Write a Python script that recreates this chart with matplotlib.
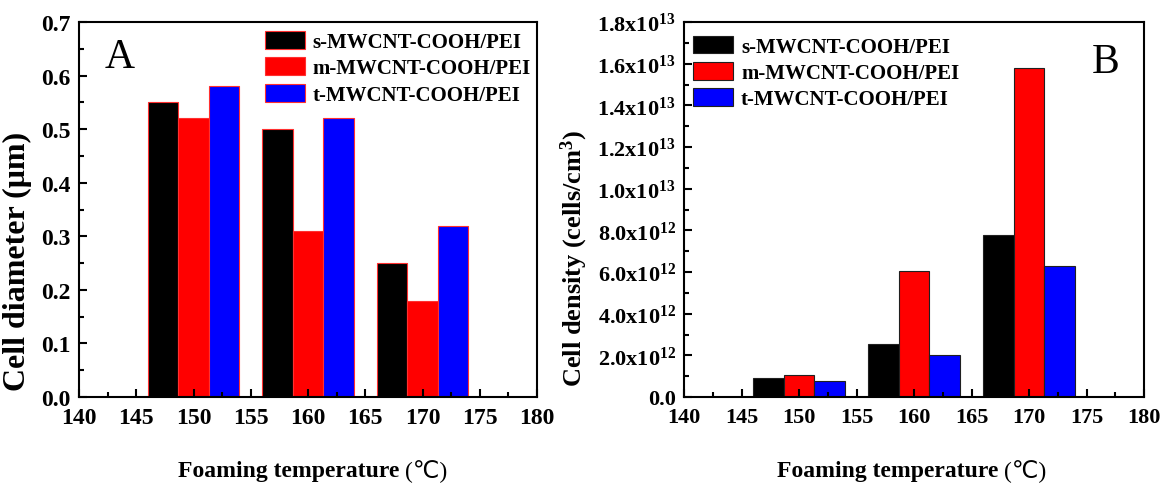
import numpy as np
import matplotlib
matplotlib.use("Agg")
import matplotlib.pyplot as plt
from matplotlib.ticker import MultipleLocator

plt.rcParams['font.family'] = ['Liberation Serif', 'DejaVu Sans']
plt.rcParams['font.weight'] = 'bold'
plt.rcParams['mathtext.fontset'] = 'custom'
plt.rcParams['mathtext.rm'] = 'Liberation Serif:bold'
plt.rcParams['mathtext.bf'] = 'Liberation Serif:bold'
plt.rcParams['mathtext.it'] = 'Liberation Serif:bold:italic'

# data
temps = [150, 160, 170]
series = ['s-MWCNT-COOH/PEI', 'm-MWCNT-COOH/PEI', 't-MWCNT-COOH/PEI']
colors = ['#000000', '#ff0000', '#0000ff']

diam_s = [0.55, 0.50, 0.25]
diam_m = [0.52, 0.31, 0.18]
diam_t = [0.58, 0.52, 0.32]

dens_s = [0.91e12, 2.56e12, 7.8e12]
dens_m = [1.04e12, 6.06e12, 1.58e13]
dens_t = [0.76e12, 2.0e12, 6.27e12]

w = 8 / 3.0
offs = [-w, 0, w]

fig = plt.figure(figsize=(11.62, 4.85), dpi=100)
# axes frames: A 79..537 px, B 684..1144 px, y 23..398 px
axA = fig.add_axes([79 / 1162, 87 / 485, 458 / 1162, 375 / 485])
axB = fig.add_axes([684 / 1162, 87 / 485, 460 / 1162, 375 / 485])

x = np.array(temps, dtype=float)
for vals, c, o, lab in zip([diam_s, diam_m, diam_t], colors, offs, series):
    axA.bar(x + o, vals, width=w, color=c, edgecolor='#ff3030', linewidth=0.8, label=lab)
for vals, c, o, lab in zip([dens_s, dens_m, dens_t], colors, offs, series):
    axB.bar(x + o, vals, width=w, color=c, edgecolor='#202020', linewidth=0.8, label=lab)

for ax, fs in ((axA, 17), (axB, 16)):
    ax.set_xlim(140, 180)
    ax.xaxis.set_major_locator(MultipleLocator(5))
    ax.xaxis.set_minor_locator(MultipleLocator(2.5))
    ax.tick_params(which='both', direction='in', labelsize=fs, width=1.5)
    ax.tick_params(which='major', length=6)
    ax.tick_params(which='minor', length=3.5)
    ax.tick_params(axis='x', pad=7)
    ax.tick_params(axis='y', pad=6)
    for sp in ax.spines.values():
        sp.set_linewidth(1.5)
    for t in ax.get_xticklabels():
        t.set_fontweight('bold')

# x labels: bold words, thin (℃)
for ax, xe in ((axA, 0.70), (axB, 0.683)):
    ax.text(xe, -0.197, 'Foaming temperature', transform=ax.transAxes,
            ha='right', va='center', fontsize=17, fontweight='bold')
    ax.text(xe + 0.012, -0.197, '(\u2103)', transform=ax.transAxes,
            ha='left', va='center', fontsize=17, fontweight='normal',
            family=['Liberation Serif', 'DejaVu Sans'])

axA.set_ylim(0, 0.7)
yA = np.arange(0, 0.71, 0.1)
axA.set_yticks(yA)
axA.set_yticklabels(['%.1f' % v for v in yA], fontweight='bold')
axA.yaxis.set_minor_locator(MultipleLocator(0.05))
axA.set_ylabel('Cell diameter (\u03bcm)', fontsize=23, fontweight='bold')
axA.yaxis.set_label_coords(-0.103, 0.363)
axA.text(0.057, 0.88, 'A', transform=axA.transAxes, fontsize=30, fontweight='normal')
axA.legend(loc='upper left', bbox_to_anchor=(0.406, 0.976), frameon=False,
           prop={'size': 15, 'weight': 'bold'}, handlelength=1.9, handleheight=0.95,
           handletextpad=0.4, labelspacing=0.25, borderaxespad=0, borderpad=0)

yt = np.arange(0, 1.81e13, 2e12)
labs = ['0.0']
for v in yt[1:]:
    e = int(np.floor(np.log10(v)))
    m = v / 10 ** e
    labs.append('%.1fx10$^{%d}$' % (m, e))
axB.set_ylim(0, 1.8e13)
axB.set_yticks(yt)
axB.set_yticklabels(labs, fontweight='bold')
axB.yaxis.set_minor_locator(MultipleLocator(1e12))
axB.set_ylabel('Cell density (cells/cm$^3$)', fontsize=19, fontweight='bold')
axB.yaxis.set_label_coords(-0.204, 0.373)
axB.text(0.887, 0.867, 'B', transform=axB.transAxes, fontsize=30, fontweight='normal')
axB.legend(loc='upper left', bbox_to_anchor=(0.02, 0.964), frameon=False,
           prop={'size': 15, 'weight': 'bold'}, handlelength=1.9, handleheight=0.95,
           handletextpad=0.4, labelspacing=0.25, borderaxespad=0, borderpad=0)

fig.savefig('out.png', dpi=100)
